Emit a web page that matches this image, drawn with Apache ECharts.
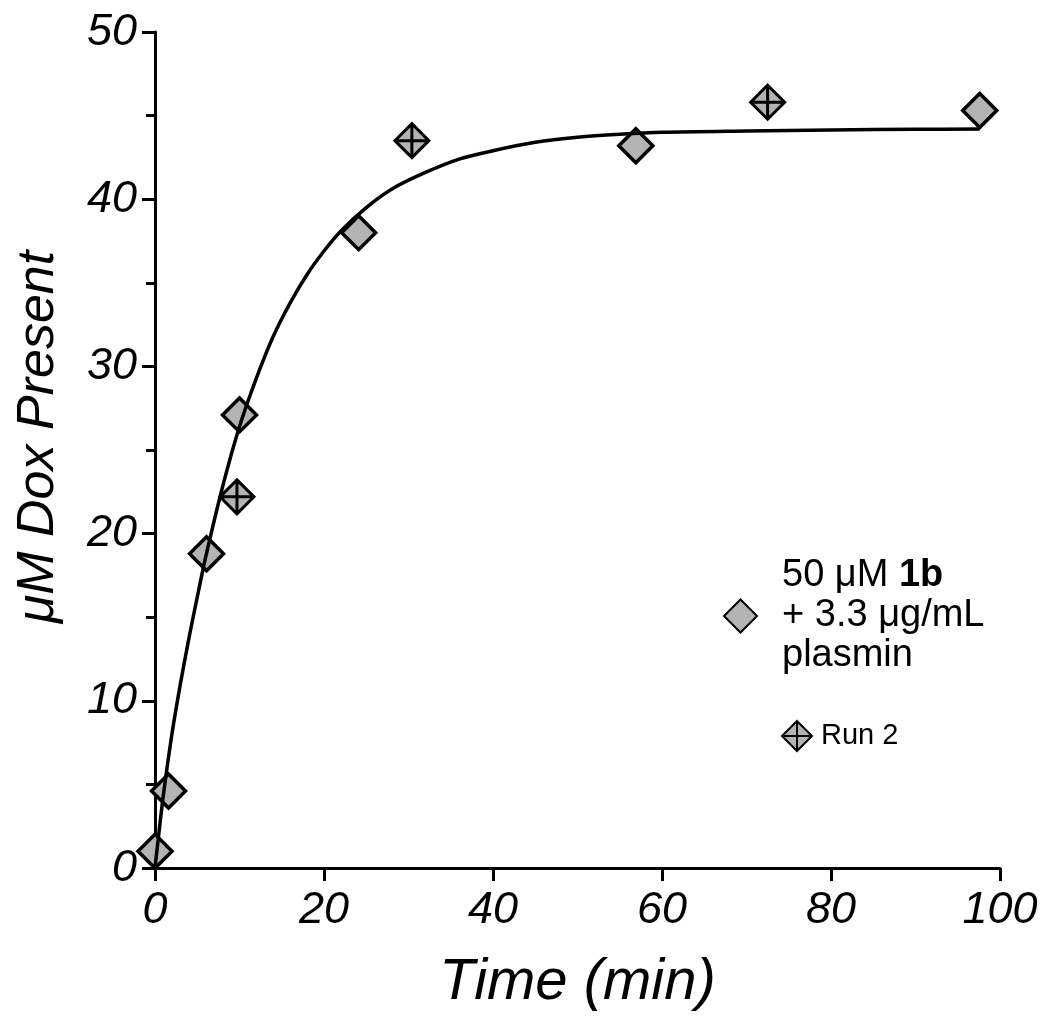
<!DOCTYPE html>
<html>
<head>
<meta charset="utf-8">
<script src="https://cdn.jsdelivr.net/npm/echarts@6/dist/echarts.min.js"></script>
<style>
html,body{margin:0;padding:0;background:#fff;}
#c{width:1050px;height:1035px;}
</style>
</head>
<body>
<div id="c"></div>
<script>
// Data
const run1Name = '50 μM 1b + 3.3 μg/mL plasmin';
const run2Name = 'Run 2';
const run1Points = [
  [0, 1.0], [1.6, 4.6], [6.1, 18.8], [10.0, 27.1],
  [24.1, 38.0], [56.9, 43.2], [97.6, 45.3]
];
const run2Points = [
  [9.7, 22.2], [30.4, 43.5], [72.5, 45.8]
];
const fitCurve = [
  [0, 0], [1, 4.4], [2, 8.0], [3, 11.0], [4, 13.7], [5, 16.2], [6, 18.6],
  [8, 22.8], [10, 26.4], [12, 29.3], [14, 31.8], [16, 33.8], [18, 35.5],
  [20, 36.9], [22, 38.1], [25, 39.5], [28, 40.6], [32, 41.6], [36, 42.4],
  [40, 42.9], [45, 43.4], [50, 43.7], [55, 43.88], [60, 44.0], [70, 44.08],
  [80, 44.14], [90, 44.18], [97.6, 44.2]
];
const xTicks = { min: 0, max: 100, interval: 20 };
const yTicks = { min: 0, max: 50, interval: 10 };

const FONT = "'Liberation Sans', Arial, sans-serif";
const GRAY = '#b3b3b3';
const diamondCross = 'path://M0,-10L10,0L0,10L-10,0Z M0,-10L0,10 M-10,0L10,0';

const chart = echarts.init(document.getElementById('c'), null, { renderer: 'canvas' });
chart.setOption({
  backgroundColor: '#ffffff',
  animation: false,
  grid: { left: 155, right: 50, top: 32, bottom: 167, containLabel: false },
  xAxis: {
    type: 'value',
    min: xTicks.min, max: xTicks.max, interval: xTicks.interval,
    name: 'Time (min)', nameLocation: 'middle', nameGap: 86,
    nameTextStyle: { fontFamily: FONT, fontStyle: 'italic', fontSize: 58, color: '#000' },
    axisLine: { onZero: false, lineStyle: { color: '#000', width: 3 } },
    axisTick: { show: true, inside: false, length: 13, lineStyle: { color: '#000', width: 3 } },
    axisLabel: { fontFamily: FONT, fontStyle: 'italic', fontSize: 45, color: '#000', margin: 20 },
    splitLine: { show: false }
  },
  yAxis: {
    type: 'value',
    min: yTicks.min, max: yTicks.max, interval: yTicks.interval,
    name: 'μM Dox Present', nameLocation: 'middle', nameGap: 90,
    nameTextStyle: { fontFamily: FONT, fontStyle: 'italic', fontSize: 52, color: '#000', padding: [0, 0, 0, 26] },
    axisLine: { onZero: false, lineStyle: { color: '#000', width: 3 } },
    axisTick: { show: true, inside: false, length: 13, lineStyle: { color: '#000', width: 3 } },
    minorTick: { show: true, splitNumber: 2, length: 9, lineStyle: { color: '#000', width: 3 } },
    axisLabel: { fontFamily: FONT, fontStyle: 'italic', fontSize: 45, color: '#000', margin: 18 },
    splitLine: { show: false }
  },
  legend: [
    {
      data: [run1Name],
      orient: 'vertical',
      left: 723, top: 556,
      padding: 0,
      itemWidth: 33, itemHeight: 33,
      formatter: function () {
        return '{a|50 μM }{b|1b}\n{a|+ 3.3 μg/mL}\n{a|plasmin}';
      },
      textStyle: {
        fontFamily: FONT, fontSize: 38, color: '#000', lineHeight: 40,
        padding: [0, 0, 0, 20],
        rich: {
          a: { fontFamily: FONT, fontSize: 38, color: '#000', lineHeight: 40 },
          b: { fontFamily: FONT, fontSize: 38, fontWeight: 'bold', color: '#000', lineHeight: 40 }
        }
      }
    },
    {
      data: [run2Name],
      orient: 'vertical',
      left: 781, top: 720,
      padding: 0,
      itemWidth: 30, itemHeight: 30,
      textStyle: { fontFamily: FONT, fontSize: 29, color: '#000', padding: [0, 0, 0, 4] }
    }
  ],
  series: [
    {
      name: run1Name,
      type: 'scatter',
      symbol: 'diamond',
      symbolSize: 34,
      z: 2,
      itemStyle: { color: GRAY, borderColor: '#000', borderWidth: 3.5, opacity: 1 },
      data: run1Points
    },
    {
      name: run2Name,
      type: 'scatter',
      symbol: diamondCross,
      symbolSize: 34,
      z: 2,
      itemStyle: { color: GRAY, borderColor: '#000', borderWidth: 3, opacity: 1 },
      data: run2Points
    },
    {
      name: 'fit',
      type: 'line',
      smooth: 0.3,
      showSymbol: false,
      symbol: 'none',
      z: 3,
      lineStyle: { color: '#000', width: 3.5 },
      data: fitCurve
    }
  ]
});
</script>
</body>
</html>
